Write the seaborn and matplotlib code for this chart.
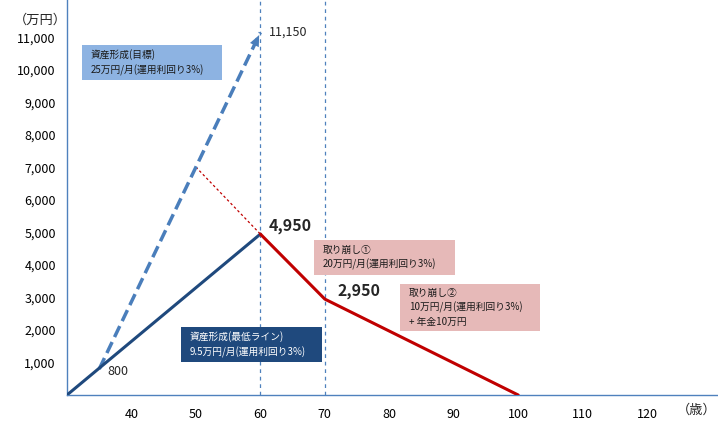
import pandas as pd
import numpy as np
import matplotlib.pyplot as plt
import seaborn as sns

sns.set_style("white")
plt.rcParams['font.family'] = ['Noto Sans CJK JP', 'DejaVu Sans']

# data
age_goal = [35, 60]
asset_goal = [800, 11150]
age_min = [30, 60]
asset_min = [0, 4950]
age_draw = [60, 70, 100]
asset_draw = [4950, 2950, 0]
age_gap = [50, 60]
asset_gap = [7010, 4950]

x_ticks = [40, 50, 60, 70, 80, 90, 100, 110, 120]
y_ticks = [1000, 2000, 3000, 4000, 5000, 6000, 7000, 8000, 9000, 10000, 11000]

c_goal = '#4A7EBB'
c_min = '#1F497D'
c_draw = '#C00000'
c_axis = '#4F81BD'

fig = plt.figure(figsize=(7.18, 4.22), dpi=100)
ax = fig.add_axes([67/718, 27/422, 651/718, 395/422])

df_goal = pd.DataFrame({'age': age_goal, 'asset': asset_goal})
df_min = pd.DataFrame({'age': age_min, 'asset': asset_min})
df_draw = pd.DataFrame({'age': age_draw, 'asset': asset_draw})
df_gap = pd.DataFrame({'age': age_gap, 'asset': asset_gap})

# vertical guides
for xv in [60, 70]:
    ax.axvline(xv, color=c_axis, lw=0.9, ls=(0, (3, 3)), zorder=1)

sns.lineplot(data=df_gap, x='age', y='asset', ax=ax, color=c_draw, lw=0.9,
             linestyle=(0, (2, 2)), zorder=2)
sns.lineplot(data=df_goal, x='age', y='asset', ax=ax, color=c_goal, lw=2.5,
             linestyle=(0, (3.5, 1.6)), zorder=3)
sns.lineplot(data=df_min, x='age', y='asset', ax=ax, color=c_min, lw=2.2, zorder=3)
sns.lineplot(data=df_draw, x='age', y='asset', ax=ax, color=c_draw, lw=2.2, zorder=3)

# arrow head on the target line
ax.annotate('', xy=(age_goal[-1], asset_goal[-1]),
            xytext=(age_goal[-1] - 1.2, asset_goal[-1] - 500),
            arrowprops=dict(arrowstyle='-|>,head_length=0.8,head_width=0.35',
                            color=c_goal, lw=0), zorder=4)

ax.set_xlim(30, 131)
ax.set_ylim(0, 12150)
ax.set_xticks(x_ticks)
ax.set_yticks(y_ticks)
ax.set_yticklabels([f'{v:,}' for v in y_ticks])
ax.set_xlabel('')
ax.set_ylabel('')
ax.tick_params(axis='both', length=0, labelsize=9, colors='#000000')
ax.tick_params(axis='x', pad=9)
ax.tick_params(axis='y', pad=8)

for s in ['top', 'right']:
    ax.spines[s].set_visible(False)
for s in ['left', 'bottom']:
    ax.spines[s].set_color(c_axis)
    ax.spines[s].set_linewidth(1.0)

# unit labels
fig.text(40/718, 1 - 20/422, '（万円）', fontsize=9.5, ha='center', va='center')
fig.text(697/718, 1 - 410/422, '（歳）', fontsize=9.5, ha='center', va='center')

# value labels
ax.text(age_goal[-1] + 1.4, asset_goal[-1], f'{asset_goal[-1]:,}', fontsize=9, va='center')
ax.text(age_goal[0] + 1.3, asset_goal[0] - 80, f'{asset_goal[0]:,}', fontsize=9, va='center')
ax.text(age_min[-1] + 1.3, asset_min[-1] + 250, f'{asset_min[-1]:,}', fontsize=11.5,
        fontweight='bold', va='center')
ax.text(age_draw[1] + 2, asset_draw[1] + 250, f'{asset_draw[1]:,}', fontsize=11.5,
        fontweight='bold', va='center')

# boxes
def box(x0, y0, w, h, fc, text, tc):
    fig.patches.append(plt.Rectangle((x0/718, 1 - (y0 + h)/422), w/718, h/422,
                                     transform=fig.transFigure, fc=fc, ec='none', zorder=5))
    fig.text((x0 + 9)/718, 1 - (y0 + h/2)/422, text, fontsize=7, color=tc,
             ha='left', va='center', linespacing=1.5, zorder=6)

box(82, 45, 140, 35, '#8DB3E2', '資産形成(目標)\n25万円/月(運用利回り3%)', '#1a1a1a')
box(181, 327, 141, 35, '#1F497D', '資産形成(最低ライン)\n9.5万円/月(運用利回り3%)', 'white')
box(314, 240, 141, 35, '#E6B9B8', '取り崩し①\n20万円/月(運用利回り3%)', '#1a1a1a')
box(400, 284, 140, 47, '#E6B9B8', '取り崩し②\n10万円/月(運用利回り3%)\n+ 年金10万円', '#1a1a1a')

fig.savefig('out.png', dpi=100)
